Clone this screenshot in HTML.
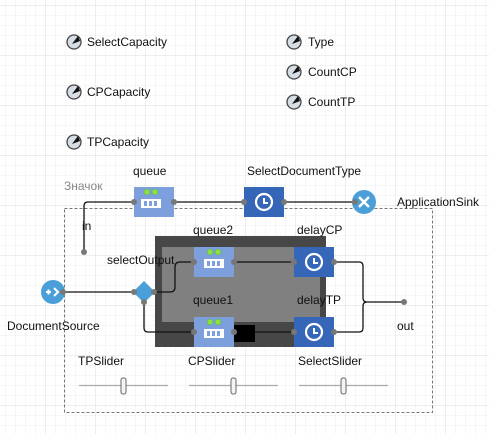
<!DOCTYPE html>
<html><head><meta charset="utf-8"><style>
html,body{margin:0;padding:0;background:#fff;}
svg{display:block;}
text{font-family:"Liberation Sans",sans-serif;font-size:12px;fill:#111;}
</style></head><body>
<svg width="489" height="434" viewBox="0 0 489 434" xmlns="http://www.w3.org/2000/svg">
<defs>
<pattern id="g" width="10" height="10" patternUnits="userSpaceOnUse" x="5" y="5">
<path d="M0 0H10M0 0V10" stroke="#ececec" stroke-width="1" fill="none"/>
</pattern>
<pattern id="G" width="50" height="50" patternUnits="userSpaceOnUse" x="45" y="5">
<path d="M0 0H50M0 0V50" stroke="#dcdcdc" stroke-width="1" fill="none"/>
</pattern>
<g id="var"><circle cx="0" cy="0" r="7" fill="#d6dde4" stroke="#444" stroke-width="1.3"/><path d="M-2 2L4 -6L6 -1Z" fill="#111"/></g>
<g id="qicon"><rect x="-10" y="-4" width="20" height="9" fill="#fff"/><rect x="-7" y="-2" width="3" height="5" fill="#7da0dc"/><rect x="-2" y="-2" width="3" height="5" fill="#7da0dc"/><rect x="3" y="-2" width="3" height="5" fill="#7da0dc"/><circle cx="-4" cy="-11" r="3" fill="#8fe03a" stroke="#4a7" stroke-width=".5"/><circle cx="4" cy="-11" r="3" fill="#8fe03a" stroke="#4a7" stroke-width=".5"/></g>
<g id="clock"><circle r="8" fill="none" stroke="#fff" stroke-width="2.2"/><path d="M0 -4V1H4" stroke="#fff" stroke-width="2" fill="none"/></g>
</defs>
<rect width="489" height="434" fill="url(#g)"/>
<rect width="489" height="434" fill="url(#G)"/>

<use href="#var" x="74" y="42"/><text x="87" y="46">SelectCapacity</text>
<use href="#var" x="74" y="92"/><text x="87" y="96">CPCapacity</text>
<use href="#var" x="74" y="142"/><text x="87" y="146">TPCapacity</text>
<use href="#var" x="294" y="42"/><text x="308" y="46">Type</text>
<use href="#var" x="294" y="72"/><text x="308" y="76">CountCP</text>
<use href="#var" x="294" y="102"/><text x="308" y="106">CountTP</text>

<text x="64" y="190" style="fill:#888">Значок</text>
<rect x="64.5" y="208.5" width="368" height="204" fill="none" stroke="#777" stroke-dasharray="3,2"/>

<rect x="155" y="236" width="171" height="111" fill="#474747"/>
<rect x="162" y="247" width="158" height="75" fill="#808080"/>

<!-- connectors -->
<g stroke="#111" stroke-width="1.3" fill="none">
<path d="M134 202H88Q84 202 84 206V252"/>
<path d="M174 202H244"/><path d="M284 202H360"/>
<path d="M62 292H133"/>
<path d="M154 292H170Q175 292 175 287V267Q175 262 180 262H194"/>
<path d="M144 302V328Q144 332 148 332H194"/>
<path d="M234 262H294"/><path d="M255 332H294"/>
<path d="M334 262H359Q363 262 363 266V298Q363 302 367 302H404M367 302Q363 302 363 306V328Q363 332 359 332H334"/>
</g>
<rect x="234" y="325" width="21" height="17" fill="#000"/>

<rect x="134" y="187" width="40" height="30" fill="#7da0dc"/><use href="#qicon" x="151" y="203"/>
<rect x="244" y="187" width="40" height="30" fill="#3566b8"/><use href="#clock" x="264" y="202"/>
<circle cx="364" cy="202" r="12" fill="#4b9fd8"/><path d="M359 197L369 207M369 197L359 207" stroke="#fff" stroke-width="2.5"/>
<rect x="194" y="247" width="40" height="30" fill="#7da0dc"/><use href="#qicon" x="214" y="263"/>
<rect x="294" y="247" width="40" height="30" fill="#3566b8"/><use href="#clock" x="314" y="262"/>
<rect x="194" y="317" width="40" height="30" fill="#7da0dc"/><use href="#qicon" x="214" y="333"/>
<rect x="294" y="317" width="40" height="30" fill="#3566b8"/><use href="#clock" x="314" y="332"/>
<path d="M144 281L155 292L144 303L133 292Z" fill="#4b9fd8"/>
<circle cx="53" cy="292" r="12" fill="#4b9fd8"/>
<path d="M46 292H51M48.5 289.5V294.5" stroke="#fff" stroke-width="2"/><path d="M54 288L58 292L54 296" stroke="#fff" stroke-width="2" fill="none"/>

<g fill="#777">
<circle cx="134" cy="202" r="3"/><circle cx="174" cy="202" r="3"/><circle cx="244" cy="202" r="3"/><circle cx="284" cy="202" r="3"/><circle cx="355" cy="202" r="3"/>
<circle cx="84" cy="252" r="3"/><circle cx="404" cy="302" r="3"/><circle cx="63" cy="292" r="3"/>
<circle cx="134" cy="292" r="3"/><circle cx="154" cy="292" r="3"/><circle cx="144" cy="302" r="3"/>
<circle cx="194" cy="262" r="3"/><circle cx="234" cy="262" r="3"/><circle cx="294" cy="262" r="3"/><circle cx="334" cy="262" r="3"/>
<circle cx="194" cy="332" r="3"/><circle cx="234" cy="332" r="3"/><circle cx="294" cy="332" r="3"/><circle cx="334" cy="332" r="3"/>
</g>

<text x="133" y="175">queue</text>
<text x="247" y="175">SelectDocumentType</text>
<text x="397" y="206">ApplicationSink</text>
<text x="82" y="230">in</text>
<text x="193" y="234">queue2</text>
<text x="297" y="234">delayCP</text>
<text x="107" y="264">selectOutput</text>
<text x="193" y="304">queue1</text>
<text x="297" y="304">delayTP</text>
<text x="7" y="330">DocumentSource</text>
<text x="397" y="330">out</text>

<text x="78" y="365">TPSlider</text>
<text x="188" y="365">CPSlider</text>
<text x="298" y="365">SelectSlider</text>
<g stroke="#aaa" stroke-width="1.2">
<path d="M79 385.5H168"/><path d="M189 385.5H278"/><path d="M299 385.5H388"/>
</g>
<g fill="#f4f4f4" stroke="#666" stroke-width="1">
<rect x="121" y="378" width="5" height="16" rx="2"/><rect x="231" y="378" width="5" height="16" rx="2"/><rect x="341" y="378" width="5" height="16" rx="2"/>
</g>
</svg>
</body></html>
